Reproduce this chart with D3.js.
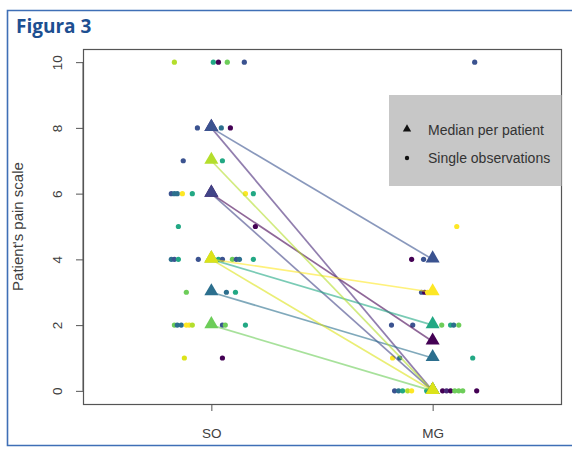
<!DOCTYPE html>
<html>
<head>
<meta charset="utf-8">
<script src="https://cdn.jsdelivr.net/npm/d3@7"></script>
<style>
  html, body { margin: 0; padding: 0; background: #fff; }
  svg { display: block; }
</style>
</head>
<body>
<svg id="chart" width="572" height="449"></svg>
<script>
// Groups on the x axis
const categories = ["SO", "MG"];
const yTicks = [0, 2, 4, 6, 8, 10];

// Median pain score per patient in each group (one entry per patient)
const patients = ["1", "2", "3", "4", "5", "6", "7", "8", "9", "10"];
const soMedian = [6, 8, 8, 6, 3, 4, 4, 2, 7, 4];
const mgMedian = [1.5, 0, 4, 0, 1, 2, 3, 0, 0, 0];

// Single observations, SO group: value, horizontal jitter (category units), patient index
const soObsValue = [10, 10, 10, 10, 10, 8, 8, 8, 7, 7, 6, 6, 6, 6, 6, 6, 6, 5, 5,
  4, 4, 4, 4, 4, 4, 4, 4, 4, 4, 3, 3, 3, 2, 2, 2, 2, 2, 2, 2, 2, 2, 1, 1];
const soObsJitter = [-0.167, 0.009, 0.032, 0.072, 0.149, -0.063, 0.045, 0.086, -0.127, 0.05,
  -0.181, -0.167, -0.154, -0.131, -0.086, 0.154, 0.19, -0.149, 0.199,
  -0.181, -0.167, -0.149, -0.059, 0.032, 0.05, 0.095, 0.113, 0.127, 0.19,
  -0.113, 0.068, 0.109, -0.167, -0.154, -0.136, -0.113, -0.1, -0.086, 0.05, 0.063, 0.154,
  -0.122, 0.05];
const soObsPatient = [8, 5, 0, 7, 2, 2, 4, 0, 2, 5, 2, 4, 4, 6, 5, 6, 5, 5, 0,
  4, 2, 5, 2, 5, 2, 7, 2, 4, 5, 7, 4, 5, 7, 4, 4, 6, 6, 8, 2, 7, 5, 9, 0];

// Single observations, MG group
const mgObsValue = [10, 5, 4, 4, 3, 3, 3, 2, 2, 2, 2, 2, 2, 1, 1, 1,
  0, 0, 0, 0, 0, 0, 0, 0, 0, 0, 0, 0, 0, 0];
const mgObsJitter = [0.19, 0.109, -0.095, -0.041, -0.05, -0.036, -0.023,
  -0.186, -0.09, 0.041, 0.081, 0.095, 0.118, -0.181, -0.149, 0.181,
  -0.172, -0.154, -0.136, -0.113, -0.095, -0.027, -0.014, 0.045, 0.063, 0.081, 0.1, 0.118, 0.136, 0.199];
const mgObsPatient = [2, 6, 0, 2, 2, 0, 6, 2, 2, 7, 5, 4, 7, 6, 4, 5,
  2, 4, 5, 8, 6, 5, 2, 0, 1, 0, 7, 7, 7, 0];

const legendLabels = ["Median per patient", "Single observations"];

// Patient colour palette (viridis-like)
const palette = ["#440154", "#482878", "#3b5390", "#414487", "#2c6f8e",
  "#22a884", "#fde725", "#6dcd59", "#b4de2c", "#dce319"];

const svg = d3.select("#chart");
const W = 572, H = 449;
const plot = { left: 83, right: 561, top: 49, bottom: 404 };

// Page frame and title
svg.append("path")
  .attr("d", `M${W + 5},10.5 H7.5 V445.5 H${W + 5}`)
  .attr("fill", "none").attr("stroke", "#3f6fb6").attr("stroke-width", 1.6);
svg.append("text")
  .attr("x", 16).attr("y", 33)
  .attr("font-family", "'Open Sans', sans-serif")
  .attr("font-weight", 700).attr("font-size", 19)
  .attr("fill", "#1d4f91")
  .text("Figura 3");

const x = d3.scaleLinear().domain([0.42, 2.58]).range([plot.left, plot.right]);
const y = d3.scaleLinear().domain([-0.4, 10.4]).range([plot.bottom, plot.top]);
const color = d3.scaleOrdinal().domain(d3.range(patients.length)).range(palette);

const font = "'Liberation Sans', Arial, sans-serif";
const textCol = "#404040";

// Axes
const yAxis = d3.axisLeft(y).tickValues(yTicks).tickSize(7).tickFormat(d3.format("d"));
const gy = svg.append("g").attr("transform", `translate(${plot.left},0)`).call(yAxis);
gy.select(".domain").remove();
gy.append("line").attr("x1", 0).attr("x2", 0).attr("y1", y(0)).attr("y2", y(10))
  .attr("stroke", "#555");
gy.selectAll(".tick line").attr("stroke", "#555");
gy.selectAll(".tick text")
  .attr("font-family", font).attr("font-size", 13.5).attr("fill", textCol)
  .attr("x", null)
  .attr("text-anchor", "middle")
  .attr("transform", "translate(-26,0) rotate(-90)")
  .attr("dy", "0.36em");

const xAxis = d3.axisBottom(x).tickValues([1, 2]).tickSize(7)
  .tickFormat((d) => categories[d - 1]);
const gx = svg.append("g").attr("transform", `translate(0,${plot.bottom})`).call(xAxis);
gx.select(".domain").remove();
gx.selectAll(".tick line").attr("stroke", "#555");
gx.selectAll(".tick text")
  .attr("font-family", font).attr("font-size", 13.5).attr("fill", textCol)
  .attr("y", 24);

// Plot box
svg.append("rect")
  .attr("x", plot.left + 0.5).attr("y", plot.top + 0.5)
  .attr("width", plot.right - plot.left).attr("height", plot.bottom - plot.top)
  .attr("fill", "none").attr("stroke", "#555").attr("stroke-width", 1.2);

// Y axis title
svg.append("text")
  .attr("transform", `translate(23,${(plot.top + plot.bottom) / 2}) rotate(-90)`)
  .attr("text-anchor", "middle")
  .attr("font-family", font).attr("font-size", 15).attr("fill", textCol)
  .text("Patient's pain scale");

// Single observations
const obs = [];
soObsValue.forEach((v, i) => obs.push({ g: 1, v, j: soObsJitter[i], p: soObsPatient[i] }));
mgObsValue.forEach((v, i) => obs.push({ g: 2, v, j: mgObsJitter[i], p: mgObsPatient[i] }));

svg.append("g").selectAll("circle").data(obs).join("circle")
  .attr("cx", (d) => x(d.g + d.j))
  .attr("cy", (d) => y(d.v))
  .attr("r", 2.6)
  .attr("fill", (d) => color(d.p));

// Lines joining the medians of each patient
const med = patients.map((p, i) => ({ i, so: soMedian[i], mg: mgMedian[i] }));
svg.append("g").selectAll("line").data(med).join("line")
  .attr("x1", x(1)).attr("x2", x(2))
  .attr("y1", (d) => y(d.so)).attr("y2", (d) => y(d.mg))
  .attr("stroke", (d) => color(d.i))
  .attr("stroke-opacity", 0.6)
  .attr("stroke-width", 1.7);

// Median triangles
const tri = d3.symbol().type(d3.symbolTriangle).size(85);
const medPts = [];
med.forEach((d) => { medPts.push({ g: 1, v: d.so, i: d.i }); medPts.push({ g: 2, v: d.mg, i: d.i }); });
svg.append("g").selectAll("path").data(medPts).join("path")
  .attr("d", tri)
  .attr("transform", (d) => `translate(${x(d.g)},${y(d.v) - 1})`)
  .attr("fill", (d) => color(d.i));

// Legend
const lg = svg.append("g");
lg.append("rect").attr("x", 389).attr("y", 95).attr("width", plot.right - 389 + 0.5).attr("height", 91)
  .attr("fill", "#c7c7c7");
lg.append("path").attr("d", d3.symbol().type(d3.symbolTriangle).size(30))
  .attr("transform", "translate(407,129)").attr("fill", "#111");
lg.append("circle").attr("cx", 407).attr("cy", 158).attr("r", 2.2).attr("fill", "#111");
lg.selectAll("text.lab").data(legendLabels).join("text")
  .attr("class", "lab")
  .attr("x", 428).attr("y", (d, i) => 130 + i * 28)
  .attr("dy", "0.35em")
  .attr("font-family", font).attr("font-size", 14).attr("fill", "#333")
  .text((d) => d);
</script>
</body>
</html>
